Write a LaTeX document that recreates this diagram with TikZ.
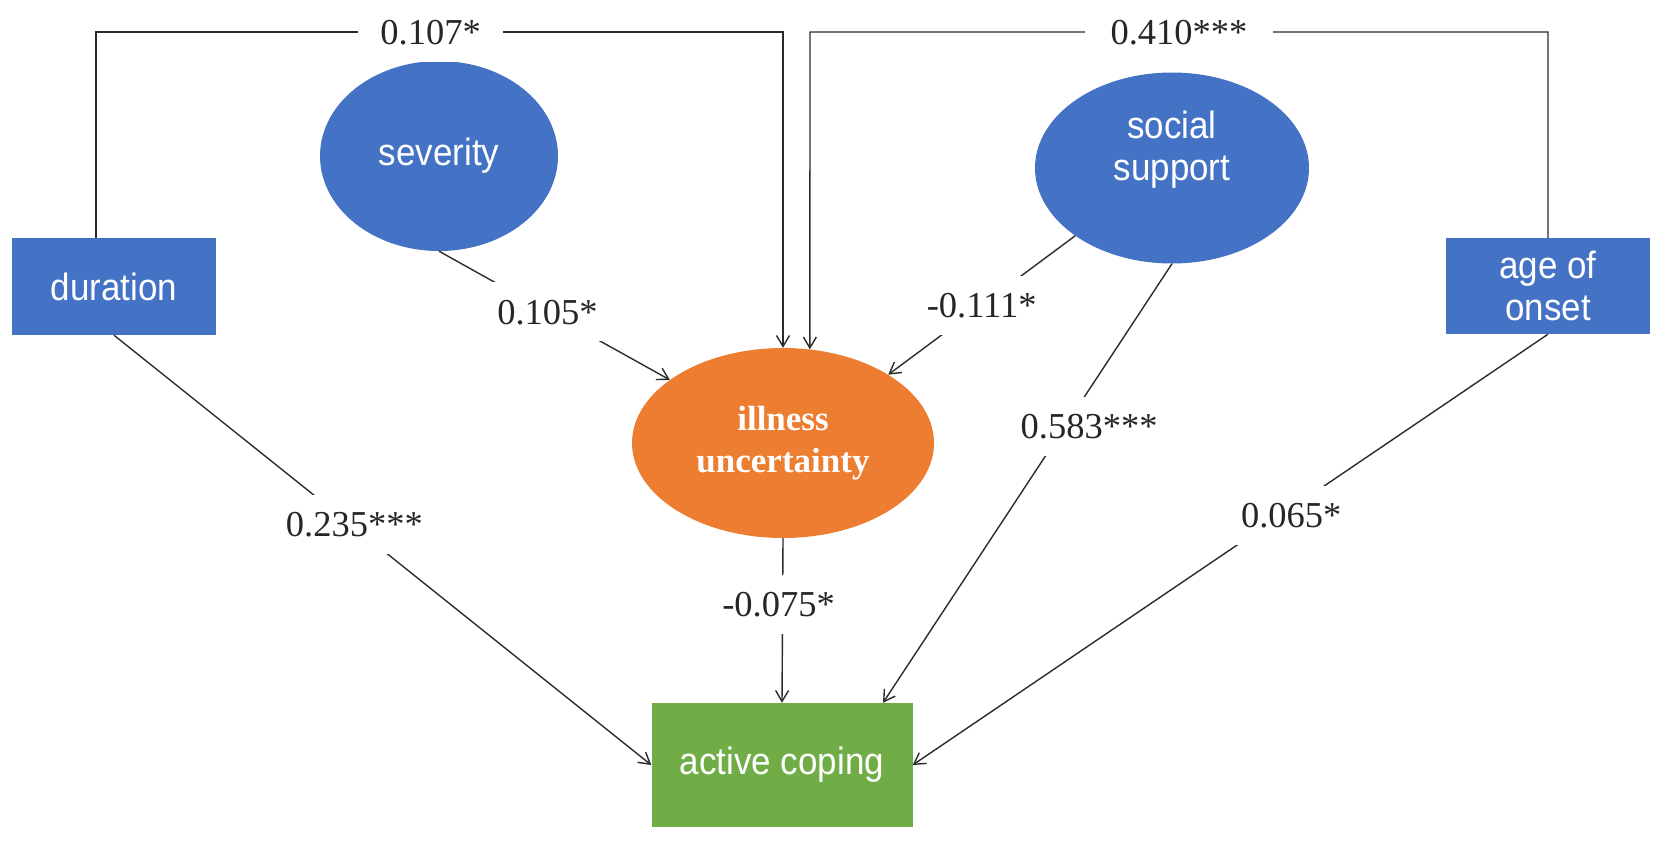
\documentclass[tikz,border=0pt]{standalone}
\usepackage{fontspec}
\setmainfont{Liberation Serif}
\newfontfamily\boxfont{Liberation Sans}[FakeStretch=0.92]
\usetikzlibrary{arrows.meta,shapes.geometric}
\definecolor{nblue}{HTML}{4472C4}
\definecolor{norange}{HTML}{ED7D31}
\definecolor{ngreen}{HTML}{70AD47}
\definecolor{lcol}{HTML}{2B2B2B}
\begin{document}
\begin{tikzpicture}[x=1pt,y=-1pt,
  boxtext/.style={text=white, font=\boxfont\fontsize{38}{42}\selectfont, align=center},
  boxnode/.style={rectangle, fill=nblue, inner sep=0pt, boxtext},
  ovalnode/.style={ellipse, fill=nblue, inner sep=0pt, boxtext},
  conn/.style={draw=lcol, line width=1.4pt, -{Straight Barb[length=11pt,width=13pt]}},
  lbl/.style={fill=white, font=\fontsize{36.5}{40}\selectfont, text=black!85,
    inner xsep=8pt, inner ysep=17pt, text height=25pt, text depth=0pt},
  toplbl/.style={lbl, inner xsep=22pt}]
\useasboundingbox (0,0) rectangle (1665,844);

% nodes
\node[boxnode, minimum width=204pt, minimum height=97pt] (dur) at (114,286.5) {duration};
\node[boxnode, minimum width=204pt, minimum height=96pt] (age) at (1548,286) {age of\\onset};
\node[ovalnode, minimum width=238pt, minimum height=190pt] (sev) at (439,156) {severity};
\node[ovalnode, minimum width=274pt, minimum height=191pt,
  label={[boxtext, yshift=18pt]center:{\fontsize{38}{40}\selectfont social\\support}}] (soc) at (1172,168) {};
\node[ellipse, fill=norange, text=white, inner sep=0pt, minimum width=302pt, minimum height=190pt,
  font=\bfseries\fontsize{35}{42}\selectfont, align=center] (ill) at (783,443) {illness\\uncertainty};
\node[rectangle, fill=ngreen, inner sep=0pt, boxtext, minimum width=261pt, minimum height=124pt]
  (ac) at (782,765) {active coping};

% bend points of the top connectors
\coordinate (tl) at (96,32);
\coordinate (tm) at (783,32);
\coordinate (tm2) at (810,32);
\coordinate (tr) at (1548,32);

% connectors
\draw[conn] (tl |- dur.north) -- (tl) -- node[toplbl, pos=0.487] {0.107*} (tm) -- (ill.north);
\draw[conn] (age.north) -- (tr) -- node[toplbl, pos=0.50, inner xsep=26pt] {0.410***} (tm2) -- (ill.74.5);
\draw[conn] (sev.south) -- node[lbl, pos=0.47] {0.105*} (ill);
\draw[conn] (soc.215) -- node[lbl, pos=0.5] {-0.111*} (ill.33);
\draw[conn] (dur.south) -- node[lbl, pos=0.44, xshift=4pt] {0.235***} (ac.west);
\draw[conn] (ill.south) -- node[lbl, pos=0.40, xshift=-4pt] {-0.075*} (ac.north);
\draw[conn] (soc.south) -- node[lbl, pos=0.37, xshift=24pt] {0.583***} ([xshift=101pt]ac.north);
\draw[conn] (age.south) -- node[lbl, pos=0.42, xshift=10pt] {0.065*} (ac.east);
\end{tikzpicture}
\end{document}
